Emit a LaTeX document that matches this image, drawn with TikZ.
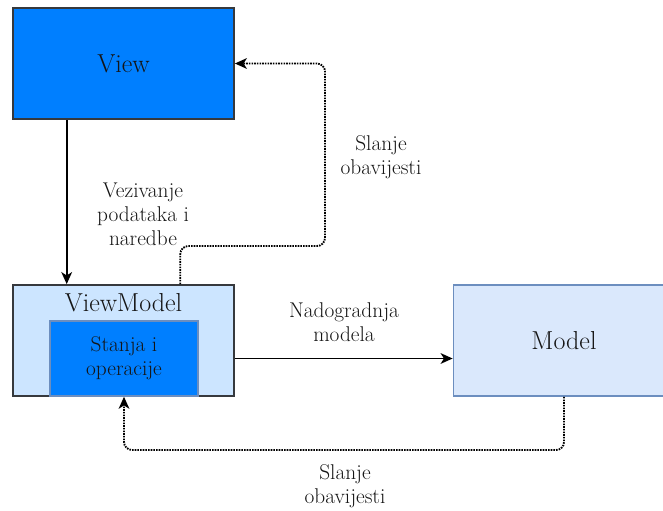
\documentclass[tikz,border=0pt]{standalone}
\usetikzlibrary{arrows.meta,calc}

\definecolor{viewblue}{HTML}{007FFF}
\definecolor{vmblue}{HTML}{CCE5FF}
\definecolor{modelblue}{HTML}{DAE8FC}
\definecolor{modelline}{HTML}{6C8EBF}
\definecolor{boxline}{HTML}{36393D}
\definecolor{txt}{HTML}{151515}

\begin{document}
\begin{tikzpicture}[x=0.75pt,y=-0.75pt,>={Stealth[length=9pt,width=8pt,inset=2.5pt]},line width=1.4pt,
    box node/.style={rectangle,draw=boxline,line width=1.3pt,minimum width=165.75pt,minimum height=83.25pt,inner sep=0pt},
    title node/.style={text=txt,font=\fontsize{19.5}{22}\selectfont},
    label node/.style={align=center,text=txt,font=\fontsize{16}{18}\selectfont},
    notify/.style={->,dash pattern=on 1.2pt off 0.8pt,rounded corners=6pt}]

  \clip (0,0) rectangle (663,510);

  \node[box node,fill=viewblue] (view) at (123.5,63.5) {};
  \node[title node] (viewtitle) at (view.center) {View};

  \node[box node,fill=vmblue] (vm) at (123.5,340.5) {};
  \node[title node] (vmtitle) at (123.5,303) {ViewModel};
  \node[rectangle,draw=modelline,line width=1.1pt,fill=viewblue,minimum width=111pt,minimum height=56.25pt,inner sep=0pt,
        label node] (stanja) at (124,358.5) {Stanja i\\operacije};

  \node[box node,draw=modelline,fill=modelblue] (model) at (564,340.5) {};
  \node[title node] (modeltitle) at (model.center) {Model};

  \coordinate (upturn) at (325,246);
  \coordinate (downturn) at (345,450);

  \draw[->] ($(view.south west)!0.245!(view.south east)$) -- ($(vm.north west)!0.245!(vm.north east)$);
  \draw[notify] ($(vm.north west)!0.755!(vm.north east)$) |- (upturn) |- (view.east);
  \draw[->] (vm.east |- stanja) -- (model.west |- stanja);
  \draw[notify] (model.south) |- (downturn) -| (stanja.south);

  \node[label node] (veziv) at (143,214) {Vezivanje\\podataka i\\naredbe};
  \node[label node] (slanjeup) at (381,157) {Slanje\\obavijesti};
  \node[label node] (nadogr) at (344,322) {Nadogradnja\\modela};
  \node[label node] (slanjedown) at (345,486) {Slanje\\obavijesti};

\end{tikzpicture}
\end{document}
